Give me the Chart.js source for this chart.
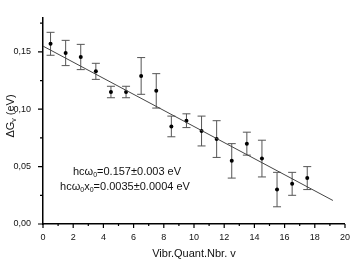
<!DOCTYPE html>
<html>
<head>
<meta charset="utf-8">
<script src="https://cdn.jsdelivr.net/npm/chart.js@4"></script>
<style>
  html, body { margin: 0; padding: 0; background: #fff; }
  #wrap { width: 358px; height: 262px; }
</style>
</head>
<body>
<div id="wrap"><canvas id="chart" width="358" height="262"></canvas></div>
<script>
// --- DATA ---
const vibLevels = [0.5, 1.5, 2.5, 3.5, 4.5, 5.5, 6.5, 7.5, 8.5, 9.5, 10.5, 11.5, 12.5, 13.5, 14.5, 15.5, 16.5, 17.5];
const deltaG = [0.157, 0.149, 0.1455, 0.133, 0.115, 0.115, 0.129, 0.116, 0.085, 0.090, 0.081, 0.074, 0.055, 0.070, 0.057, 0.030, 0.035, 0.040];
const deltaGErr = [0.010, 0.011, 0.011, 0.007, 0.005, 0.005, 0.016, 0.015, 0.009, 0.006, 0.013, 0.016, 0.015, 0.010, 0.016, 0.015, 0.010, 0.010];
const fitX = [0, 19.2];
const fitY = [0.155, 0.0205];
const xTicks = [0, 2, 4, 6, 8, 10, 12, 14, 16, 18, 20];
const xMinorTicks = [1, 3, 5, 7, 9, 11, 13, 15, 17, 19];
const yTicks = [0, 0.05, 0.10, 0.15];
const yMinorTicks = [0.025, 0.075, 0.125, 0.175];

const FONT = '"Liberation Sans", Arial, sans-serif';

// draw text pieces with optional subscripts, centred on x
function drawParts(ctx, parts, x, y, size) {
    const subSize = Math.round(size * 0.65);
    let total = 0;
    parts.forEach(p => {
        ctx.font = (p.sub ? subSize : size) + 'px ' + FONT;
        total += ctx.measureText(p.t).width;
    });
    let cx = x - total / 2;
    ctx.textAlign = 'left';
    ctx.textBaseline = 'alphabetic';
    parts.forEach(p => {
        ctx.font = (p.sub ? subSize : size) + 'px ' + FONT;
        ctx.fillText(p.t, cx, p.sub ? y + size * 0.22 : y);
        cx += ctx.measureText(p.t).width;
    });
}

const extrasPlugin = {
    id: 'extras',
    beforeDatasetsDraw(chart) {
        const { ctx, scales: { x, y } } = chart;
        ctx.save();
        ctx.strokeStyle = '#555';
        ctx.lineWidth = 1;
        vibLevels.forEach((v, i) => {
            const px = x.getPixelForValue(v);
            const top = y.getPixelForValue(deltaG[i] + deltaGErr[i]);
            const bot = y.getPixelForValue(deltaG[i] - deltaGErr[i]);
            ctx.beginPath();
            ctx.moveTo(px, top); ctx.lineTo(px, bot);
            ctx.moveTo(px - 4, top); ctx.lineTo(px + 4, top);
            ctx.moveTo(px - 4, bot); ctx.lineTo(px + 4, bot);
            ctx.stroke();
        });
        ctx.restore();
    },
    afterDraw(chart) {
        const { ctx, scales: { x, y } } = chart;
        const axisY = y.getPixelForValue(0);
        const axisX = x.getPixelForValue(0);
        ctx.save();
        ctx.strokeStyle = '#000';
        ctx.lineWidth = 1.2;
        ctx.beginPath();
        xTicks.forEach(v => { const p = x.getPixelForValue(v); ctx.moveTo(p, axisY); ctx.lineTo(p, axisY + 4); });
        xMinorTicks.forEach(v => { const p = x.getPixelForValue(v); ctx.moveTo(p, axisY); ctx.lineTo(p, axisY + 2); });
        yTicks.forEach(v => { const p = y.getPixelForValue(v); ctx.moveTo(axisX, p); ctx.lineTo(axisX - 5, p); });
        yMinorTicks.forEach(v => { const p = y.getPixelForValue(v); ctx.moveTo(axisX, p); ctx.lineTo(axisX - 3, p); });
        ctx.stroke();

        ctx.fillStyle = '#111';
        // axis titles
        ctx.font = '11px ' + FONT;
        ctx.textAlign = 'center';
        ctx.textBaseline = 'alphabetic';
        ctx.fillText('Vibr.Quant.Nbr. v', (chart.chartArea.left + chart.chartArea.right) / 2, 257);

        ctx.save();
        ctx.translate(14, 116);
        ctx.rotate(-Math.PI / 2);
        drawParts(ctx, [{ t: '\u0394G' }, { t: 'v', sub: true }, { t: ' (eV)' }], 0, 0, 11);
        ctx.restore();

        // fit results
        drawParts(ctx, [{ t: 'hc\u03c9' }, { t: '0', sub: true }, { t: '=0.157\u00b10.003 eV' }], 127, 175, 11);
        drawParts(ctx, [{ t: 'hc\u03c9' }, { t: '0', sub: true }, { t: 'x' }, { t: '0', sub: true }, { t: '=0.0035\u00b10.0004 eV' }], 125, 190, 11);
        ctx.restore();
    }
};

new Chart(document.getElementById('chart'), {
    type: 'scatter',
    data: {
        datasets: [
            {
                type: 'line',
                data: fitX.map((v, i) => ({ x: v, y: fitY[i] })),
                borderColor: '#444',
                borderWidth: 1,
                pointRadius: 0,
                fill: false
            },
            {
                data: vibLevels.map((v, i) => ({ x: v, y: deltaG[i] })),
                backgroundColor: '#000',
                borderColor: '#000',
                pointRadius: 2,
                borderWidth: 0
            }
        ]
    },
    options: {
        responsive: false,
        animation: false,
        layout: { padding: { top: 2, right: 9, left: 0, bottom: 0 } },
        plugins: { legend: { display: false }, tooltip: { enabled: false } },
        scales: {
            x: {
                type: 'linear',
                min: 0,
                max: 20,
                afterBuildTicks: s => { s.ticks = xTicks.map(v => ({ value: v })); },
                afterFit: s => { s.height = 38; },
                grid: { display: true, drawOnChartArea: false, drawTicks: false },
                border: { display: true, color: '#000', width: 1.5 },
                ticks: { padding: 8, color: '#111', font: { family: FONT, size: 9 }, maxRotation: 0 }
            },
            y: {
                type: 'linear',
                min: 0,
                max: 0.18,
                afterBuildTicks: s => { s.ticks = yTicks.map(v => ({ value: v })); },
                afterFit: s => { s.width = 43; },
                grid: { display: true, drawOnChartArea: false, drawTicks: false },
                border: { display: true, color: '#000', width: 1.5 },
                ticks: {
                    padding: 12,
                    color: '#111',
                    font: { family: FONT, size: 9 },
                    callback: v => v.toFixed(2).replace('.', ',')
                }
            }
        }
    },
    plugins: [extrasPlugin]
});
</script>
</body>
</html>
